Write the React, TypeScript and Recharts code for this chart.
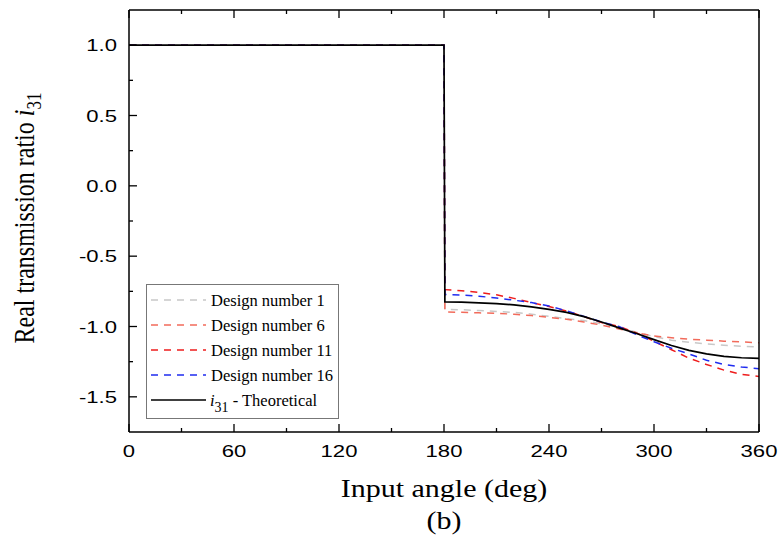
import React from 'react'
import { LineChart, Line, XAxis, YAxis, Legend } from 'recharts'

// input angle (deg); 180 is doubled to draw the jump
const angles = [0, 180, 180.5, 190, 200, 210, 220, 230, 240, 250, 260, 270, 280, 290, 300, 310, 320, 330, 340, 350, 360]

const design1 = [1, 1, -0.877, -0.881, -0.886, -0.893, -0.9, -0.912, -0.928, -0.944, -0.958, -0.98, -1.005, -1.04, -1.072, -1.097, -1.112, -1.124, -1.133, -1.14, -1.145]
const design6 = [1, 1, -0.896, -0.899, -0.903, -0.906, -0.913, -0.922, -0.935, -0.948, -0.968, -0.99, -1.018, -1.045, -1.068, -1.08, -1.09, -1.097, -1.104, -1.11, -1.115]
const design11 = [1, 1, -0.738, -0.745, -0.757, -0.775, -0.8, -0.83, -0.858, -0.89, -0.93, -0.972, -1.0, -1.045, -1.105, -1.165, -1.225, -1.27, -1.31, -1.34, -1.355]
const design16 = [1, 1, -0.773, -0.776, -0.785, -0.797, -0.813, -0.83, -0.855, -0.888, -0.928, -0.968, -1.0, -1.058, -1.108, -1.155, -1.195, -1.24, -1.27, -1.288, -1.3]
const theoretical = [1, 1, -0.826, -0.827, -0.832, -0.838, -0.846, -0.86, -0.878, -0.9, -0.93, -0.968, -1.01, -1.05, -1.093, -1.135, -1.17, -1.195, -1.212, -1.222, -1.226]

const xTicks = [0, 30, 60, 90, 120, 150, 180, 210, 240, 270, 300, 330, 360]
const yTicks = [-1.5, -1.25, -1, -0.75, -0.5, -0.25, 0, 0.25, 0.5, 0.75, 1]

const series = [
  { key: 'd1', name: 'Design number 1', color: '#c8c8c8', dash: '7 6' },
  { key: 'd6', name: 'Design number 6', color: '#f26b5b', dash: '7 6' },
  { key: 'd11', name: 'Design number 11', color: '#ee1c1c', dash: '7 6' },
  { key: 'd16', name: 'Design number 16', color: '#1f2cf0', dash: '7 6' },
  { key: 'theo', name: 'Theoretical', color: '#000000', dash: undefined },
]

const data = angles.map((a, i) => ({
  angle: a,
  d1: design1[i],
  d6: design6[i],
  d11: design11[i],
  d16: design16[i],
  theo: theoretical[i],
}))

const SANS = '"Liberation Sans", Arial, sans-serif'
const SERIF = '"Liberation Serif", "Times New Roman", serif'

const isMajorX = (v: number) => v % 60 === 0
const isMajorY = (v: number) => Math.abs(v * 2 - Math.round(v * 2)) < 1e-6

const BottomTick = (props: any) => {
  const { x, y, payload } = props
  const major = isMajorX(payload.value)
  return (
    <g>
      <line x1={x} y1={y} x2={x} y2={y - (major ? 8 : 4)} stroke="#000" strokeWidth={1.3} />
      {major && (
        <text
          transform={`translate(${x},${y + 25}) scale(1.3,1)`}
          textAnchor="middle"
          fontFamily={SANS}
          fontSize={17}
          fill="#000"
        >
          {payload.value}
        </text>
      )}
    </g>
  )
}

const TopTick = (props: any) => {
  const { x, y, payload } = props
  const major = isMajorX(payload.value)
  return <line x1={x} y1={y} x2={x} y2={y + (major ? 8 : 4)} stroke="#000" strokeWidth={1.3} />
}

const LeftTick = (props: any) => {
  const { x, y, payload } = props
  const major = isMajorY(payload.value)
  return (
    <g>
      <line x1={x} y1={y} x2={x + (major ? 8 : 4)} y2={y} stroke="#000" strokeWidth={1.3} />
      {major && (
        <text
          transform={`translate(${x - 12},${y + 6}) scale(1.3,1)`}
          textAnchor="end"
          fontFamily={SANS}
          fontSize={17}
          fill="#000"
        >
          {payload.value.toFixed(1)}
        </text>
      )}
    </g>
  )
}

const RightTick = (props: any) => {
  const { x, y, payload } = props
  const major = isMajorY(payload.value)
  return <line x1={x} y1={y} x2={x - (major ? 8 : 4)} y2={y} stroke="#000" strokeWidth={1.3} />
}

const LegendBox = () => (
  <svg width={193} height={135} style={{ display: 'block' }}>
    <rect x={0.5} y={0.5} width={192} height={134} fill="#fff" stroke="#777" strokeWidth={1} />
    {series.map((s, i) => {
      const cy = 16 + i * 25
      return (
        <g key={s.key}>
          <line x1={5} y1={cy} x2={60} y2={cy} stroke={s.color} strokeWidth={1.5} strokeDasharray={s.dash} />
          {s.key === 'theo' ? (
            <text x={64} y={cy + 6} fontFamily={SERIF} fontSize={16.5} fill="#000">
              <tspan fontStyle="italic">i</tspan>
              <tspan fontSize={14} dy={6}>31</tspan>
              <tspan dy={-6}> - Theoretical</tspan>
            </text>
          ) : (
            <text x={65} y={cy + 6} fontFamily={SERIF} fontSize={16.5} fill="#000">
              {s.name}
            </text>
          )}
        </g>
      )
    })}
  </svg>
)

const axisLine = { stroke: '#000', strokeWidth: 1.5 }

export default function App() {
  return (
    <div style={{ position: 'absolute', left: 0, top: 0, width: 780, height: 537, background: '#fff' }}>
      <LineChart width={780} height={537} data={data} margin={{ top: 9, right: 20, bottom: 75, left: 69 }}>
        <XAxis
          xAxisId="b"
          dataKey="angle"
          type="number"
          domain={[0, 360]}
          ticks={xTicks}
          interval={0}
          tickSize={0}
          tickMargin={0}
          tickLine={false}
          axisLine={axisLine}
          tick={<BottomTick />}
          height={30}
        />
        <XAxis
          xAxisId="t"
          orientation="top"
          dataKey="angle"
          type="number"
          domain={[0, 360]}
          ticks={xTicks}
          interval={0}
          tickSize={0}
          tickMargin={0}
          tickLine={false}
          axisLine={axisLine}
          tick={<TopTick />}
          height={1}
        />
        <YAxis
          yAxisId="l"
          type="number"
          domain={[-1.75, 1.25]}
          ticks={yTicks}
          interval={0}
          tickSize={0}
          tickMargin={0}
          tickLine={false}
          axisLine={axisLine}
          tick={<LeftTick />}
          width={60}
        />
        <YAxis
          yAxisId="r"
          orientation="right"
          type="number"
          domain={[-1.75, 1.25]}
          ticks={yTicks}
          interval={0}
          tickSize={0}
          tickMargin={0}
          tickLine={false}
          axisLine={axisLine}
          tick={<RightTick />}
          width={1}
        />
        {series.map((s) => (
          <Line
            key={s.key}
            xAxisId="b"
            yAxisId="l"
            type="linear"
            dataKey={s.key}
            name={s.name}
            stroke={s.color}
            strokeWidth={s.key === 'theo' ? 1.7 : 1.5}
            strokeDasharray={s.dash}
            dot={false}
            activeDot={false}
            isAnimationActive={false}
          />
        ))}
        <Legend
          layout="horizontal"
          verticalAlign="middle"
          align="center"
          content={<LegendBox />}
          wrapperStyle={{ left: 146, top: 284, width: 193, height: 135 }}
        />
      </LineChart>
      <svg
        width={780}
        height={537}
        style={{ position: 'absolute', left: 0, top: 0, pointerEvents: 'none' }}
      >
        <text
          transform="translate(34,218) rotate(-90) scale(1,1.2)"
          textAnchor="middle"
          fontFamily={SERIF}
          fontSize={24}
          fill="#000"
        >
          Real transmission ratio <tspan fontStyle="italic">i</tspan>
          <tspan fontSize={17} dy={6}>31</tspan>
        </text>
        <text
          transform="translate(444,497) scale(1.2,1)"
          textAnchor="middle"
          fontFamily={SERIF}
          fontSize={25}
          fill="#000"
        >
          Input angle (deg)
        </text>
        <text
          transform="translate(444,529) scale(1.2,1)"
          textAnchor="middle"
          fontFamily={SERIF}
          fontSize={25}
          fill="#000"
        >
          (b)
        </text>
      </svg>
    </div>
  )
}
